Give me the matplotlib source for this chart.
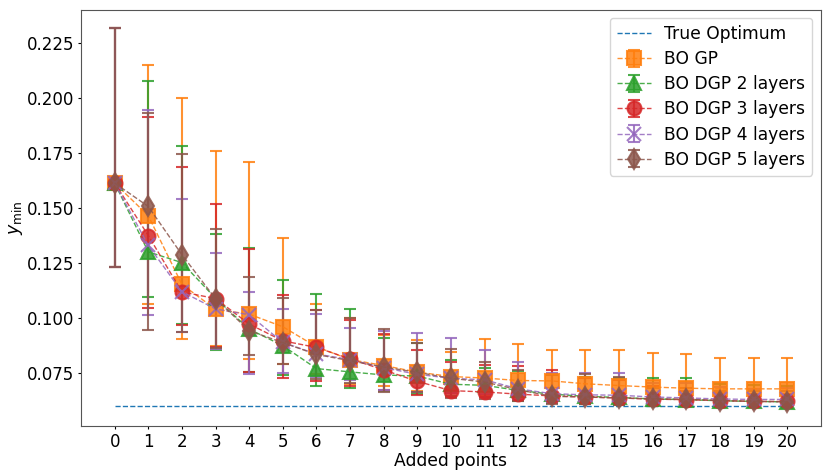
import matplotlib
matplotlib.use("Agg")
import matplotlib.pyplot as plt
import numpy as np

x = list(range(21))
true_opt = 0.0601

labels = ["BO GP", "BO DGP 2 layers", "BO DGP 3 layers", "BO DGP 4 layers", "BO DGP 5 layers"]

gp_mean = [0.1613, 0.1465, 0.1153, 0.1040, 0.1018, 0.0961, 0.0870, 0.0812, 0.0785, 0.0755, 0.0735,
           0.0728, 0.0717, 0.0715, 0.0702, 0.0694, 0.0687, 0.0682, 0.0679, 0.0679, 0.0679]
gp_hi = [0.2315, 0.2148, 0.1997, 0.1760, 0.1708, 0.1362, 0.1064, 0.1000, 0.0925, 0.0900, 0.0845,
         0.0905, 0.0882, 0.0857, 0.0854, 0.0854, 0.0842, 0.0837, 0.0819, 0.0819, 0.0819]
gp_lo = [0.1232, 0.1066, 0.0905, 0.0875, 0.0815, 0.0792, 0.0747, 0.0700, 0.0691, 0.0671, 0.0660,
         0.0650, 0.0640, 0.0630, 0.0625, 0.0625, 0.0620, 0.0620, 0.0620, 0.0620, 0.0620]

dgp2_mean = [0.1613, 0.1301, 0.1252, 0.1090, 0.0950, 0.0875, 0.0771, 0.0756, 0.0742, 0.0737, 0.0700,
             0.0695, 0.0672, 0.0655, 0.0645, 0.0640, 0.0633, 0.0630, 0.0625, 0.0622, 0.0620]
dgp2_hi = [0.2315, 0.2078, 0.1781, 0.1383, 0.1319, 0.1175, 0.1109, 0.1042, 0.0911, 0.0887, 0.0810,
           0.0772, 0.0760, 0.0745, 0.0732, 0.0730, 0.0730, 0.0730, 0.0702, 0.0697, 0.0691]
dgp2_lo = [0.1232, 0.1096, 0.0973, 0.0857, 0.0755, 0.0740, 0.0691, 0.0682, 0.0670, 0.0655, 0.0645,
           0.0640, 0.0625, 0.0615, 0.0610, 0.0605, 0.0603, 0.0602, 0.0600, 0.0600, 0.0600]

dgp3_mean = [0.1613, 0.1375, 0.1119, 0.1089, 0.0973, 0.0897, 0.0867, 0.0815, 0.0765, 0.0713, 0.0671,
             0.0665, 0.0655, 0.0647, 0.0642, 0.0638, 0.0632, 0.0630, 0.0626, 0.0622, 0.0622]
dgp3_hi = [0.2315, 0.1911, 0.1688, 0.1520, 0.1315, 0.1107, 0.1037, 0.0990, 0.0928, 0.0855, 0.0802,
           0.0787, 0.0782, 0.0766, 0.0730, 0.0717, 0.0690, 0.0671, 0.0660, 0.0655, 0.0655]
dgp3_lo = [0.1232, 0.1046, 0.0970, 0.0868, 0.0755, 0.0729, 0.0714, 0.0692, 0.0675, 0.0649, 0.0642,
           0.0640, 0.0628, 0.0618, 0.0612, 0.0608, 0.0605, 0.0603, 0.0602, 0.0600, 0.0600]

dgp4_mean = [0.1613, 0.1330, 0.1120, 0.1042, 0.1015, 0.0890, 0.0837, 0.0812, 0.0775, 0.0745, 0.0727,
             0.0720, 0.0679, 0.0657, 0.0652, 0.0650, 0.0642, 0.0638, 0.0633, 0.0631, 0.0631]
dgp4_hi = [0.2315, 0.1947, 0.1543, 0.1297, 0.1119, 0.1041, 0.1017, 0.0953, 0.0940, 0.0933, 0.0908,
           0.0856, 0.0802, 0.0750, 0.0750, 0.0750, 0.0705, 0.0705, 0.0687, 0.0680, 0.0682]
dgp4_lo = [0.1232, 0.1013, 0.0935, 0.0860, 0.0747, 0.0751, 0.0735, 0.0719, 0.0676, 0.0665, 0.0661,
           0.0655, 0.0635, 0.0620, 0.0615, 0.0612, 0.0610, 0.0608, 0.0605, 0.0603, 0.0603]

dgp5_mean = [0.1613, 0.1507, 0.1288, 0.1088, 0.0943, 0.0889, 0.0835, 0.0807, 0.0778, 0.0754, 0.0727,
             0.0710, 0.0675, 0.0645, 0.0642, 0.0637, 0.0634, 0.0632, 0.0626, 0.0622, 0.0620]
dgp5_hi = [0.2315, 0.1932, 0.1745, 0.1405, 0.1187, 0.1090, 0.1035, 0.1000, 0.0950, 0.0887, 0.0860,
           0.0802, 0.0765, 0.0740, 0.0745, 0.0735, 0.0682, 0.0682, 0.0670, 0.0670, 0.0668]
dgp5_lo = [0.1232, 0.0947, 0.0937, 0.0866, 0.0833, 0.0790, 0.0725, 0.0706, 0.0664, 0.0664, 0.0637,
           0.0635, 0.0625, 0.0612, 0.0608, 0.0605, 0.0603, 0.0600, 0.0598, 0.0596, 0.0596]

series = [
    (gp_mean, gp_lo, gp_hi, "C1", "s"),
    (dgp2_mean, dgp2_lo, dgp2_hi, "C2", "^"),
    (dgp3_mean, dgp3_lo, dgp3_hi, "C3", "o"),
    (dgp4_mean, dgp4_lo, dgp4_hi, "C4", "x"),
    (dgp5_mean, dgp5_lo, dgp5_hi, "C5", "d"),
]

plt.rcParams['font.size'] = 12
fig = plt.figure(figsize=(8.3, 4.75), dpi=100)
ax = fig.add_axes([0.0976, 0.103, 0.8914, 0.877])

ax.plot([x[0], x[-1]], [true_opt, true_opt], "--", color="C0", lw=1, label="True Optimum")
for (m, lo, hi, c, mk), lab in zip(series, labels):
    m = np.array(m); lo = np.array(lo); hi = np.array(hi)
    ax.errorbar(x, m, yerr=[m - lo, hi - m], fmt=mk, linestyle="--", lw=1, color=c,
                markersize=10, capsize=4, capthick=1.5, elinewidth=1.5, alpha=0.85,
                markeredgewidth=1.5, label=lab)

ax.set_xticks(x)
ax.tick_params(axis="both", length=2.5, pad=2.5, labelsize=12)
ax.set_xlabel("Added points", fontsize=12.3, labelpad=1)
ax.set_ylabel(r"$y_{\min}$", fontsize=12.5, labelpad=1)
for s in ax.spines.values():
    s.set_color("#555555")
ax.legend(loc="upper right", prop={"size": 12.3}, labelspacing=0.42, borderaxespad=0.5)
fig.savefig("out.png", dpi=100)
